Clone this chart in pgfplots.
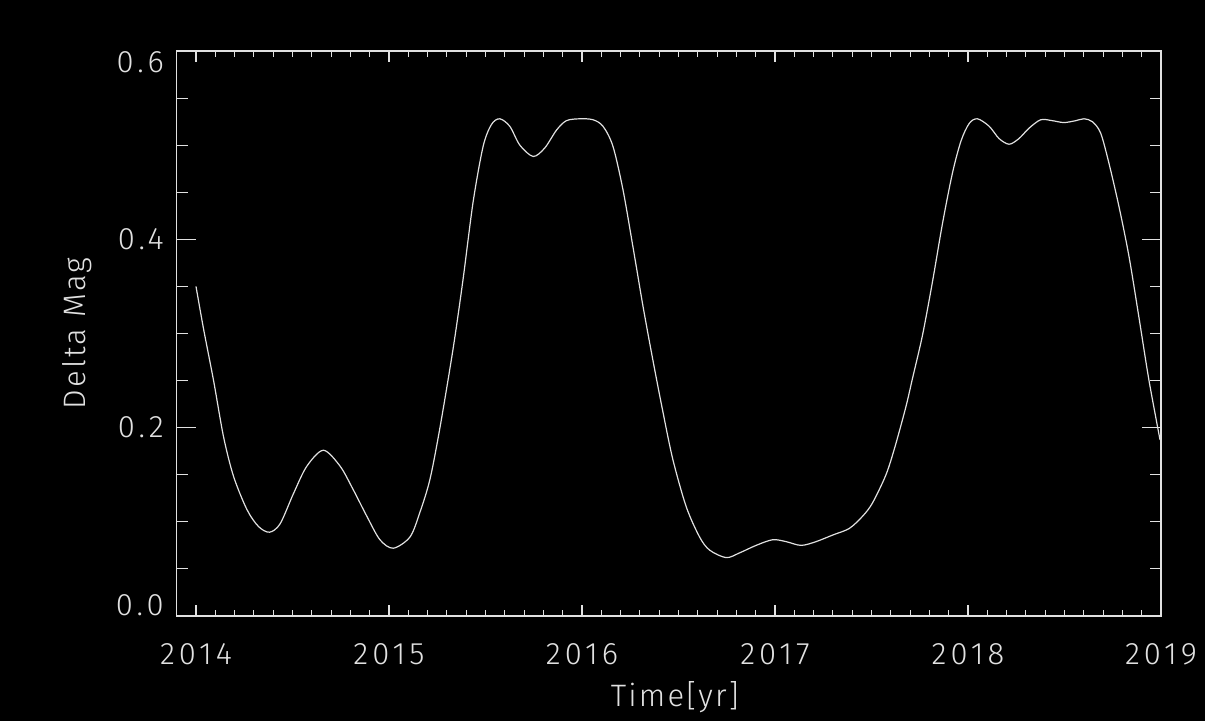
\documentclass[border=0pt]{standalone}
\usepackage{pgfplots}
\pgfplotsset{compat=1.18}
\usepackage{fontspec}
\setmainfont{Fira Sans Light}[LetterSpace=7]
\newfontfamily\tickfont{Fira Sans Light}[LetterSpace=13]

\pgfplotstableread{
t        dmag
2014.000 0.350
2014.039 0.305
2014.091 0.250
2014.143 0.190
2014.195 0.148
2014.264 0.113
2014.324 0.095
2014.381 0.089
2014.436 0.098
2014.505 0.130
2014.574 0.159
2014.660 0.176
2014.747 0.159
2014.815 0.134
2014.885 0.106
2014.953 0.081
2015.022 0.072
2015.109 0.084
2015.160 0.110
2015.212 0.145
2015.264 0.200
2015.333 0.285
2015.384 0.358
2015.436 0.440
2015.488 0.499
2015.531 0.522
2015.574 0.528
2015.626 0.520
2015.678 0.500
2015.747 0.488
2015.807 0.497
2015.868 0.516
2015.919 0.526
2015.988 0.528
2016.057 0.527
2016.109 0.520
2016.160 0.499
2016.212 0.453
2016.264 0.392
2016.316 0.329
2016.367 0.272
2016.419 0.217
2016.471 0.166
2016.540 0.116
2016.609 0.084
2016.661 0.070
2016.747 0.062
2016.816 0.067
2016.902 0.075
2016.988 0.081
2017.057 0.079
2017.135 0.075
2017.213 0.079
2017.299 0.086
2017.385 0.093
2017.454 0.106
2017.505 0.120
2017.575 0.150
2017.622 0.180
2017.678 0.222
2017.712 0.252
2017.764 0.298
2017.816 0.355
2017.868 0.417
2017.919 0.470
2017.963 0.504
2018.006 0.523
2018.049 0.528
2018.110 0.520
2018.161 0.507
2018.213 0.501
2018.264 0.507
2018.316 0.518
2018.377 0.527
2018.437 0.526
2018.497 0.524
2018.558 0.526
2018.601 0.528
2018.644 0.525
2018.687 0.513
2018.730 0.481
2018.782 0.435
2018.834 0.382
2018.885 0.318
2018.937 0.251
2018.995 0.187
}\lightcurve

\definecolor{axisgray}{RGB}{225,225,225}

\begin{document}
\begin{tikzpicture}
\fill[black] (0,0) rectangle (1205pt,721pt);
\useasboundingbox (0,0) rectangle (1205pt,721pt);
\begin{axis}[
  at={(176.7pt,105pt)}, anchor=south west,
  scale only axis, width=984.3pt, height=565pt,
  xmin=2013.9, xmax=2019, ymin=0, ymax=0.6,
  axis line style={axisgray, line width=1.3pt},
  xtick={2014,2015,2016,2017,2018,2019},
  xticklabels={2014,2015,2016,2017,2018,2019},
  ytick={0,0.2,0.4,0.6},
  yticklabels={\raisebox{10.5pt}[\height][\depth]{0.0},0.2,0.4,\raisebox{-11.5pt}[\height][\depth]{0.6}},
  minor x tick num=9, minor y tick num=3,
  tick align=inside, tick pos=both,
  xtick style={axisgray, line width=1.1pt, /pgfplots/major tick length=11.5pt, /pgfplots/minor tick length=5.8pt},
  ytick style={axisgray, line width=1.1pt, /pgfplots/major tick length=19.5pt, /pgfplots/minor tick length=11pt},
  tick label style={font=\tickfont\fontsize{31}{31}\selectfont, text=axisgray, inner sep=0pt},
  xticklabel style={anchor=north, yshift=-27pt},
  yticklabel style={anchor=east, xshift=-12.7pt},
  xlabel={Time[yr]},
  ylabel={Delta Mag},
  label style={font=\fontsize{31}{31}\selectfont, text=axisgray, inner sep=0pt},
  xlabel style={at={(axis description cs:0.506,-0.1605)}, anchor=base},
  ylabel style={at={(axis description cs:-0.1013,0.5)}, anchor=center, rotate=0},
]
\addplot[axisgray, line width=1.2pt, smooth, tension=0.5] table[x=t, y=dmag] {\lightcurve};
\end{axis}
\end{tikzpicture}
\end{document}
